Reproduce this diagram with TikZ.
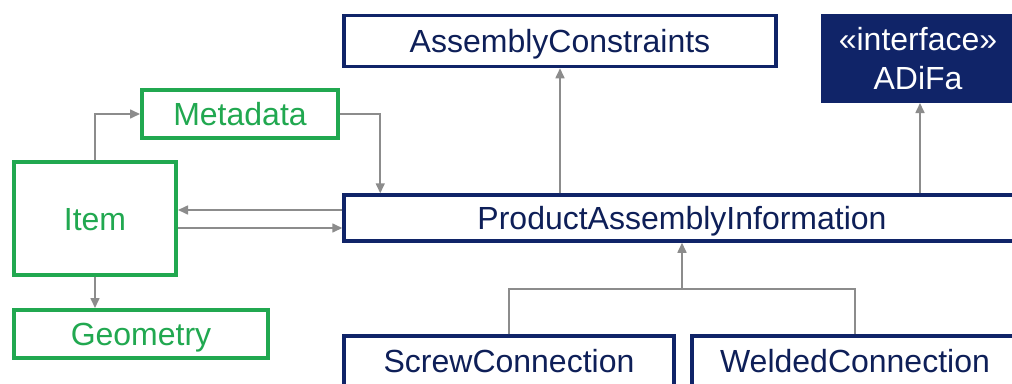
\documentclass[tikz,border=0pt]{standalone}
\usepackage{fontspec}
\setmainfont{Liberation Sans}
\usetikzlibrary{arrows.meta}
\definecolor{navy}{RGB}{16,36,104}
\definecolor{grn}{RGB}{33,168,80}
\definecolor{arrgray}{RGB}{140,140,140}
\tikzset{
  txt/.style={font=\fontsize{32}{38}\selectfont, text height=23pt, text depth=0pt, inner sep=0pt},
  bluebox/.style={txt, draw=navy, line width=3.5pt, text=navy!85!black, fill=white},
  greenbox/.style={txt, draw=grn, line width=4pt, text=grn, fill=white},
  ifbox/.style={draw=navy, fill=navy, line width=2pt, inner sep=0pt},
  iftxt/.style={font=\fontsize{32}{38}\selectfont, text=white, inner sep=0pt},
  conn/.style={draw=arrgray, line width=1.6pt},
  arr/.style={conn, -{Triangle[length=10pt,width=9pt]}}
}
\begin{document}
\begin{tikzpicture}[x=1pt,y=-1pt]
\useasboundingbox (0,0) rectangle (1012,383);
\fill[white] (0,0) rectangle (1012,383);
\clip (0,0) rectangle (1012,383);
% nodes
\node[bluebox, minimum width=432pt, minimum height=51pt] (ac) at (560,41) {AssemblyConstraints};
\node[ifbox, minimum width=192pt, minimum height=87pt] (adifa) at (918,58.5) {};
\node[iftxt, anchor=base] (ift) at ([yshift=8.5pt]adifa.center) {«interface»};
\node[iftxt, anchor=base] (ifn) at ([yshift=-30.5pt]adifa.center) {ADiFa};
\node[bluebox, minimum width=676pt, minimum height=46pt] (pai) at (682,218) {ProductAssemblyInformation};
\node[greenbox, minimum width=196pt, minimum height=48pt] (meta) at (240,114) {Metadata};
\node[greenbox, minimum width=162pt, minimum height=113pt] (item) at (95,218.5) {Item};
\node[greenbox, minimum width=254pt, minimum height=48pt] (geom) at (141,334) {Geometry};
\node[bluebox, minimum width=330pt, minimum height=50pt] (screw) at (509,361) {ScrewConnection};
\node[bluebox, minimum width=326pt, minimum height=50pt] (weld) at (855,361) {WeldedConnection};
\coordinate (j) at (682,289);
% connectors
\draw[arr] (item.north) |- (meta.west);
\draw[arr] (meta.east) -| ([xshift=38pt]pai.north west);
\draw[arr] ([yshift=8pt]pai.west) -- ([yshift=8pt]pai.west -| item.east);
\draw[arr] ([yshift=-10pt]pai.west -| item.east) -- ([yshift=-10pt]pai.west);
\draw[arr] (item.south) -- (item.south |- geom.north);
\draw[arr] (ac.south |- pai.north) -- (ac.south);
\draw[arr] ([xshift=2pt]adifa.south |- pai.north) -- ([xshift=2pt]adifa.south);
\draw[conn] (screw.north) |- (weld.north |- j) -- (weld.north);
\draw[arr] (j) -- (pai.south);
\end{tikzpicture}
\end{document}
